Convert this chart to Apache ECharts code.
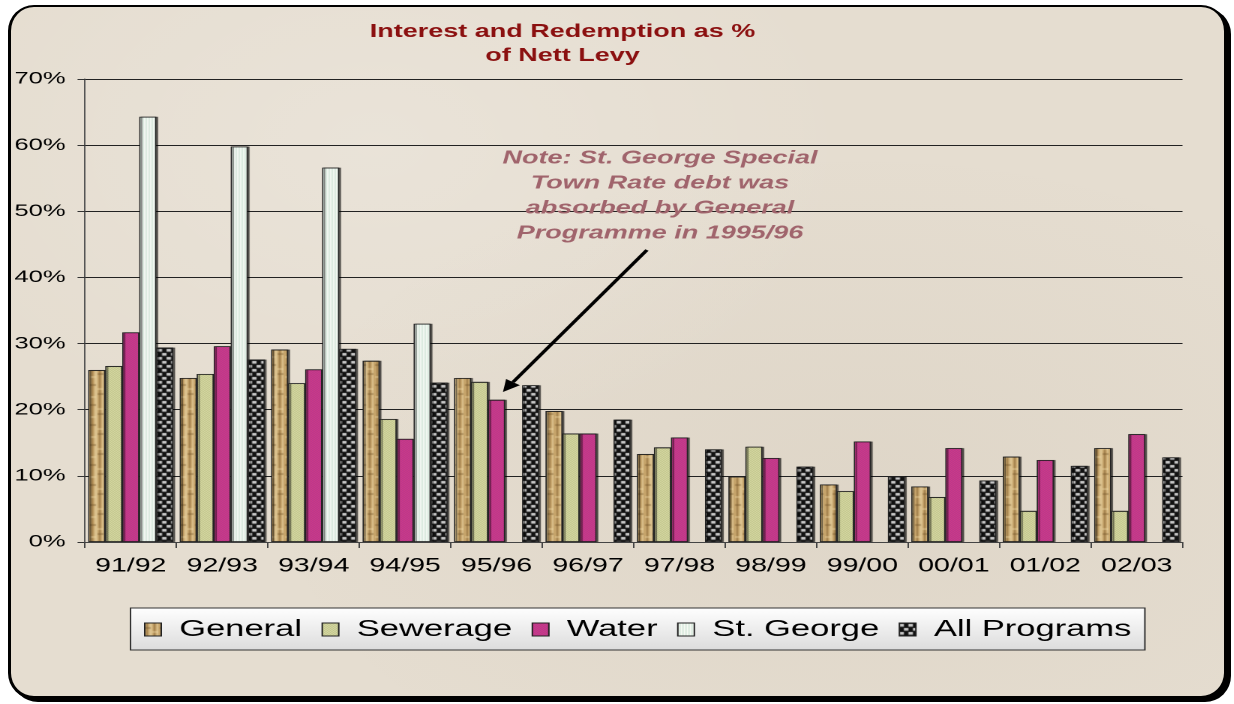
<!DOCTYPE html>
<html>
<head>
<meta charset="utf-8">
<title>Interest and Redemption as % of Nett Levy</title>
<script src="https://cdn.jsdelivr.net/npm/echarts@6/dist/echarts.min.js"></script>
<style>
  html, body { margin: 0; padding: 0; background: #fff; width: 1234px; height: 704px; overflow: hidden; }
  #frame {
    position: absolute; left: 8px; top: 5px; width: 1213px; height: 689px;
    border-style: solid; border-color: #000; border-width: 2px 3px 3px 3px;
    border-radius: 26px;
    box-shadow: 4px 3px 0 #000;
    background: #e5ddd0;
    background-image:
      radial-gradient(ellipse at 30% 20%, rgba(255,255,255,0.18), rgba(255,255,255,0) 40%),
      radial-gradient(ellipse at 70% 70%, rgba(120,100,70,0.06), rgba(0,0,0,0) 50%);
  }
  /* the reference is stretched sideways, so the chart is drawn narrow and widened */
  #echarts {
    position: absolute; left: 0; top: 0; width: 823px; height: 704px;
    transform: scaleX(1.5); transform-origin: 0 0;
  }
</style>
</head>
<body>
<div id="frame"></div>
<div id="echarts"></div>
<script>
var categories = ["91/92", "92/93", "93/94", "94/95", "95/96", "96/97", "97/98", "98/99", "99/00", "00/01", "01/02", "02/03"];
var legendData = ["General", "Sewerage", "Water", "St. George", "All Programs"];
var general     = [26.0, 24.8, 29.1, 27.4, 24.8, 19.8, 13.3,  9.9,  8.7,  8.4, 12.9, 14.2];
var sewerage    = [26.6, 25.4, 24.0, 18.6, 24.2, 16.4, 14.3, 14.4,  7.7,  6.8,  4.7,  4.7];
var water       = [31.7, 29.6, 26.1, 15.6, 21.5, 16.4, 15.8, 12.7, 15.2, 14.2, 12.4, 16.3];
var stGeorge    = [64.3, 59.8, 56.6, 33.0, null, null, null, null, null, null, null, null];
var allPrograms = [29.4, 27.6, 29.2, 24.1, 23.7, 18.5, 14.0, 11.4,  9.9,  9.3, 11.5, 12.8];
var yTicks = { min: 0, max: 70, interval: 10 };

var FONT = '"Liberation Sans", Arial, sans-serif';

// small canvas tiles used as bar fills
function tile(w, h, draw) {
  var c = document.createElement('canvas');
  c.width = w; c.height = h;
  draw(c.getContext('2d'));
  return { image: c, repeat: 'repeat' };
}

var woodFill = tile(10, 20, function (g) {
  g.fillStyle = '#c6a46a'; g.fillRect(0, 0, 10, 20);
  g.fillStyle = '#a07e4a'; g.fillRect(1, 0, 1, 20); g.fillRect(6, 0, 1, 20);
  g.fillStyle = '#dcc28e'; g.fillRect(3, 0, 2, 20); g.fillRect(8, 0, 1, 20);
  g.fillStyle = 'rgba(110,80,40,0.35)'; g.fillRect(0, 4, 4, 2); g.fillRect(5, 13, 4, 2);
  g.fillStyle = 'rgba(240,220,170,0.4)'; g.fillRect(5, 8, 4, 2); g.fillRect(0, 16, 4, 2);
});
var sewerFill = tile(2, 2, function (g) {
  g.fillStyle = '#e6deb2'; g.fillRect(0, 0, 2, 2);
  g.fillStyle = '#b2c07e'; g.fillRect(0, 0, 1, 1); g.fillRect(1, 1, 1, 1);
});
var waterFill = tile(2, 2, function (g) {
  g.fillStyle = '#e6397c'; g.fillRect(0, 0, 2, 2);
  g.fillStyle = '#a03a98'; g.fillRect(0, 0, 1, 1); g.fillRect(1, 1, 1, 1);
});
var georgeFill = tile(2, 2, function (g) {
  g.fillStyle = '#fbfcf8'; g.fillRect(0, 0, 2, 2);
  g.fillStyle = '#d2e6d8'; g.fillRect(1, 0, 1, 2);
});
var allFill = tile(6, 8, function (g) {
  g.fillStyle = '#111'; g.fillRect(0, 0, 6, 8);
  g.fillStyle = '#cfcfcf'; g.fillRect(0, 1, 3, 2); g.fillRect(3, 5, 3, 2);
  g.fillStyle = '#8a8a8a'; g.fillRect(0, 3, 3, 1); g.fillRect(3, 7, 3, 1);
});

function barSeries(name, data, fill) {
  return {
    name: name,
    type: 'bar',
    data: data,
    barGap: '0%',
    barCategoryGap: '7%',
    itemStyle: {
      color: fill,
      borderColor: '#222',
      borderWidth: 0.8,
      shadowColor: 'rgba(0,0,0,0.55)',
      shadowOffsetX: 1.2,
      shadowBlur: 0.5
    }
  };
}

var myChart = echarts.init(document.getElementById('echarts'), null, { devicePixelRatio: 2 });

myChart.setOption({
  animation: false,
  backgroundColor: 'transparent',
  title: {
    text: 'Interest and Redemption as %\nof Nett Levy',
    left: 370,
    top: 15,
    textAlign: 'center',
    textStyle: { color: '#8b1010', fontFamily: FONT, fontWeight: 'bold', fontSize: 18, lineHeight: 24 }
  },
  legend: {
    data: legendData,
    left: 87,
    top: 608,
    orient: 'horizontal',
    selectedMode: false,
    padding: [10, 9, 9, 9],
    itemGap: 13,
    itemWidth: 11,
    itemHeight: 13,
    icon: 'rect',
    backgroundColor: {
      type: 'linear', x: 0, y: 0, x2: 0, y2: 1,
      colorStops: [{ offset: 0, color: '#ffffff' }, { offset: 1, color: '#dcdcdc' }]
    },
    borderColor: '#333',
    borderWidth: 1,
    itemStyle: { borderColor: '#222', borderWidth: 1 },
    textStyle: { color: '#000', fontFamily: FONT, fontSize: 23, padding: [0, 0, 0, 7] }
  },
  grid: { left: 56.7, right: 34.7, top: 79, bottom: 162, containLabel: false },
  xAxis: {
    type: 'category',
    data: categories,
    axisLine: { show: true, lineStyle: { color: '#444', width: 1 } },
    axisTick: { show: true, length: 6, lineStyle: { color: '#444' } },
    axisLabel: { color: '#000', fontFamily: FONT, fontSize: 19, margin: 15, interval: 0, hideOverlap: false }
  },
  yAxis: {
    type: 'value',
    min: yTicks.min,
    max: yTicks.max,
    interval: yTicks.interval,
    axisLine: { show: true, lineStyle: { color: '#555', width: 1 } },
    axisTick: { show: true, length: 5, lineStyle: { color: '#333' } },
    axisLabel: { color: '#000', fontFamily: FONT, fontSize: 17, margin: 13, formatter: '{value}%' },
    splitLine: { show: true, lineStyle: { color: '#222', width: 1 } }
  },
  series: [
    barSeries(legendData[0], general, woodFill),
    barSeries(legendData[1], sewerage, sewerFill),
    barSeries(legendData[2], water, waterFill),
    barSeries(legendData[3], stGeorge, georgeFill),
    barSeries(legendData[4], allPrograms, allFill)
  ],
  graphic: [
    {
      type: 'text',
      x: 440,
      y: 146,
      z: 10,
      style: {
        text: 'Note: St. George Special\nTown Rate debt was\nabsorbed by General\nProgramme in 1995/96',
        textAlign: 'center',
        textVerticalAlign: 'top',
        font: 'italic bold 18px "Liberation Sans", Arial, sans-serif',
        lineHeight: 25,
        fill: '#a0646c'
      }
    },
    {
      type: 'line',
      z: 10,
      shape: { x1: 431.3, y1: 250, x2: 342.0, y2: 382.1 },
      style: { stroke: '#000', lineWidth: 2.6 }
    },
    {
      type: 'polygon',
      z: 10,
      shape: { points: [[335.3, 392], [346.6, 385.3], [337.4, 379.0]] },
      style: { fill: '#000' }
    }
  ]
});
</script>
</body>
</html>
